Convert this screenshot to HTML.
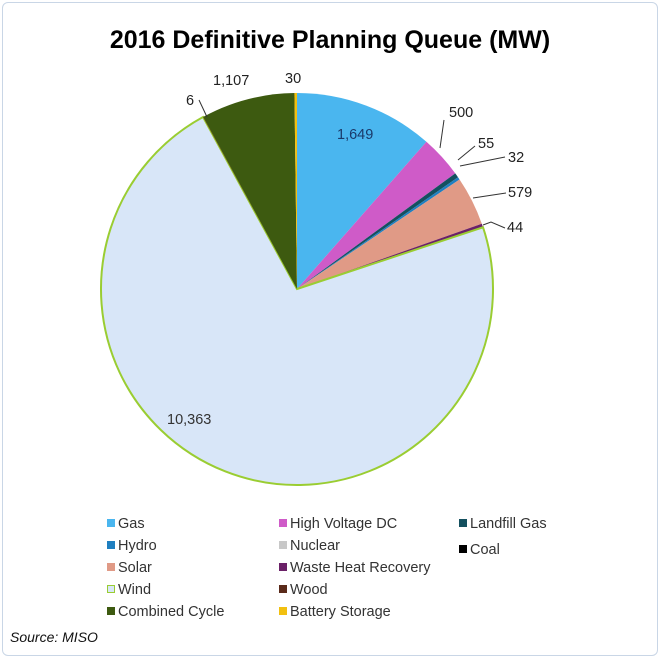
<!DOCTYPE html>
<html><head><meta charset="utf-8"><style>
body{margin:0;background:#fff;}
#f{position:absolute;left:2px;top:2px;width:654px;height:652px;border:1px solid #c9d6e6;border-radius:6px;background:#fff;}
svg{position:absolute;left:0;top:0;}
text{font-family:"Liberation Sans",Arial,sans-serif;}
</style></head><body>
<div id="f"></div>
<svg id="s" width="660" height="658" xmlns="http://www.w3.org/2000/svg">
<text x="330" y="48" text-anchor="middle" font-size="25" font-weight="bold" style="font-family:'Liberation Sans Narrow','Liberation Sans',sans-serif">2016 Definitive Planning Queue (MW)</text>
<g id="pie"></g>
<g fill="#222" font-size="14.5">
<text x="337" y="139" fill="#1a3a6a">1,649</text>
<text x="449" y="117">500</text>
<text x="478" y="148">55</text>
<text x="508" y="162">32</text>
<text x="508" y="197">579</text>
<text x="507" y="232">44</text>
<text x="167" y="424" fill="#333">10,363</text>
<text x="213" y="85">1,107</text>
<text x="285" y="83">30</text>
<text x="186" y="105">6</text>
</g>
<g stroke="#333" stroke-width="1" fill="none">
<polyline points="444,120 440,148"/>
<polyline points="475,146 458,160"/>
<polyline points="505,157 460,166"/>
<polyline points="506,193 473,198"/>
<polyline points="505,228 491,222 483,225"/>
<polyline points="199,100 207,117"/>
</g>
<g font-size="14.5" fill="#333">
<rect x="107" y="519" width="8" height="8" fill="#4ab6ef"/><text x="118" y="528">Gas</text>
<rect x="107" y="541" width="8" height="8" fill="#1f7fc0"/><text x="118" y="550">Hydro</text>
<rect x="107" y="563" width="8" height="8" fill="#e09a86"/><text x="118" y="572">Solar</text>
<rect x="107.5" y="585.5" width="7" height="7" fill="#d8e6f8" stroke="#9acd32"/><text x="118" y="594">Wind</text>
<rect x="107" y="607" width="8" height="8" fill="#3d5a10"/><text x="118" y="616">Combined Cycle</text>
<rect x="279" y="519" width="8" height="8" fill="#cf5bc8"/><text x="290" y="528">High Voltage DC</text>
<rect x="279" y="541" width="8" height="8" fill="#c8c8c8"/><text x="290" y="550">Nuclear</text>
<rect x="279" y="563" width="8" height="8" fill="#6b2168"/><text x="290" y="572">Waste Heat Recovery</text>
<rect x="279" y="585" width="8" height="8" fill="#5a2a1a"/><text x="290" y="594">Wood</text>
<rect x="279" y="607" width="8" height="8" fill="#f2c010"/><text x="290" y="616">Battery Storage</text>
<rect x="459" y="519" width="8" height="8" fill="#14505f"/><text x="470" y="528">Landfill Gas</text>
<rect x="459" y="545" width="8" height="8" fill="#000"/><text x="470" y="554">Coal</text>
</g>
<text x="10" y="642" font-size="14" font-style="italic" fill="#111">Source: MISO</text>
</svg>
<script>
var d=[[1649,"#4ab6ef"],[500,"#cf5bc8"],[55,"#14505f"],[32,"#1f7fc0"],[0,"#c8c8c8"],[579,"#e09a86"],[44,"#6b2168"],[10363,"#d8e6f8"],[6,"#5a2a1a"],[1107,"#3d5a10"],[30,"#f2c010"]];
var t=0;d.forEach(function(x){t+=x[0]});
var cx=297,cy=289,r=196,a=0,g=document.getElementById("pie"),h="";
function p(b){return [cx+r*Math.sin(b),cy-r*Math.cos(b)];}
d.forEach(function(x){if(!x[0])return;var b=a+x[0]/t*2*Math.PI;var s=p(a),e=p(b);
var st=x[1]=="#d8e6f8"?' stroke="#9acd32" stroke-width="2"':'';
h+='<path d="M'+cx+','+cy+'L'+s[0]+','+s[1]+'A'+r+','+r+' 0 '+(b-a>Math.PI?1:0)+' 1 '+e[0]+','+e[1]+'Z" fill="'+x[1]+'"'+st+'/>';a=b;});
g.innerHTML=h;
</script>
</body></html>
